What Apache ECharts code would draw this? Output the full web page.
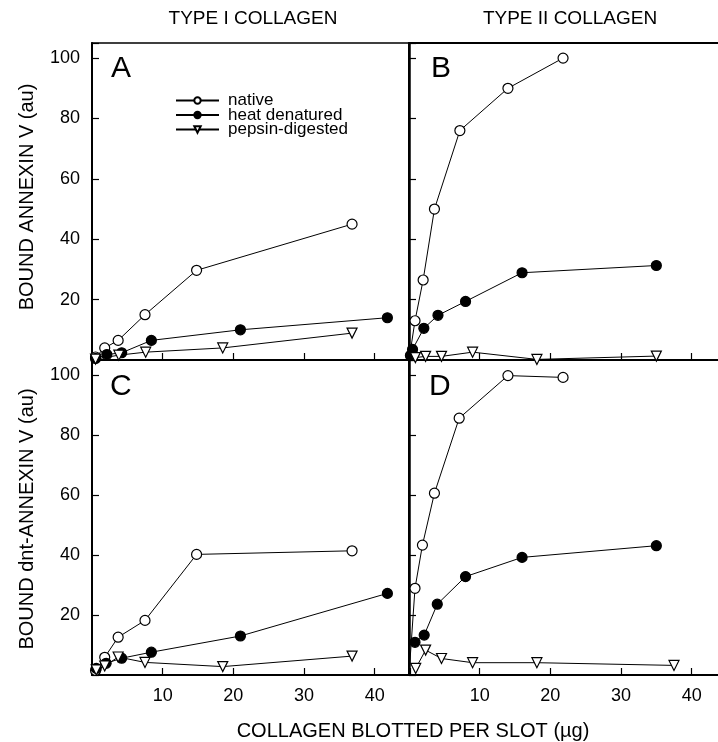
<!DOCTYPE html>
<html><head><meta charset="utf-8">
<script src="https://cdn.jsdelivr.net/npm/echarts@6/dist/echarts.min.js"></script>
<style>html,body{margin:0;padding:0;background:#fff}#c{width:718px;height:742px}</style>
</head><body><div id="c"></div>
<script>
// ---- data (x = µg collagen per slot, y = bound annexin, au) ----
const seriesNames = ['native', 'heat denatured', 'pepsin-digested'];
const xTicks = [10, 20, 30, 40];
const yTicks = [20, 40, 60, 80, 100];
const colTitles = ['TYPE I COLLAGEN', 'TYPE II COLLAGEN'];
const panelLetters = ['A', 'B', 'C', 'D'];

const A_native = [[0.5, 1], [1.8, 4], [3.7, 6.5], [7.5, 15], [14.8, 29.7], [36.8, 45]];
const A_heat = [[0.5, 0.5], [2.1, 1.8], [4.2, 2.4], [8.4, 6.5], [21, 10], [41.8, 14]];
const A_pepsin = [[0.5, 0.3], [3.8, 1.6], [7.6, 2.6], [18.5, 4], [36.8, 8.9]];

const B_native = [[0, 0], [0.85, 13], [2.0, 26.5], [3.6, 50], [7.2, 76], [14, 90], [21.8, 100]];
const B_heat = [[0.2, 1.5], [0.5, 3.5], [2.1, 10.5], [4.1, 14.8], [8.0, 19.4], [16, 28.9], [35, 31.3]];
const B_pepsin = [[0.9, 0.8], [2.35, 1.2], [4.6, 1.2], [9.0, 2.6], [18.1, 0.2], [35, 1.3]];

const C_native = [[0.5, 1.5], [1.8, 5.9], [3.7, 12.6], [7.5, 18.2], [14.8, 40.2], [36.8, 41.4]];
const C_heat = [[0.6, 2.2], [2.0, 3.9], [4.2, 5.6], [8.4, 7.6], [21, 13], [41.8, 27.2]];
const C_pepsin = [[0.6, 1.7], [1.8, 3.0], [3.7, 6.0], [7.5, 4.2], [18.5, 2.8], [36.8, 6.3]];

const D_native = [[0, 0], [0.85, 28.9], [1.9, 43.3], [3.6, 60.6], [7.1, 85.6], [14, 99.8], [21.8, 99.2]];
const D_heat = [[0.85, 10.9], [2.15, 13.3], [4.0, 23.6], [8.0, 32.8], [16, 39.2], [35, 43.1]];
const D_pepsin = [[0.95, 2.2], [2.35, 8.3], [4.6, 5.5], [9.0, 4.1], [18.1, 4.1], [37.5, 3.2]];

const panels = [
  [A_native, A_heat, A_pepsin],
  [B_native, B_heat, B_pepsin],
  [C_native, C_heat, C_pepsin],
  [D_native, D_heat, D_pepsin]
];

// ---- layout ----
const FONT = 'Liberation Sans, Arial, sans-serif';
const gridPos = [
  {left: 92, top: 43, width: 318, height: 317},
  {left: 409, top: 43, width: 318, height: 317},
  {left: 92, top: 360, width: 318, height: 315},
  {left: 409, top: 360, width: 318, height: 315}
];
const symbolStyles = [
  {symbol: 'circle', size: 10, fill: '#fff', rot: 0},
  {symbol: 'circle', size: 10, fill: '#000', rot: 0},
  {symbol: 'triangle', size: 10, fill: '#fff', rot: 180}
];

const grids = gridPos.map((g, i) => Object.assign({
  show: i % 2 === 0, borderColor: '#000', borderWidth: 1.5, backgroundColor: 'transparent',
  outerBoundsMode: 'none', containLabel: false
}, g));
const xAxes = gridPos.map((g, i) => ({
  type: 'value', gridIndex: i, min: 0, max: 45, interval: 10,
  axisLine: {show: true, onZero: false, lineStyle: {color: '#000', width: 2}},
  axisTick: {show: true, inside: true, length: 7, lineStyle: {color: '#000', width: 1.2}},
  axisLabel: {show: i >= 2, color: '#000', fontFamily: FONT, fontSize: 18, margin: 12,
    formatter: v => xTicks.includes(v) ? String(v) : ''},
  splitLine: {show: false}
}));
// top frame line of panel B
xAxes.push({
  type: 'value', gridIndex: 1, position: 'top', min: 0, max: 45,
  axisLine: {show: true, onZero: false, lineStyle: {color: '#000', width: 2}},
  axisTick: {show: false}, axisLabel: {show: false}, splitLine: {show: false}
});
const yAxes = gridPos.map((g, i) => ({
  type: 'value', gridIndex: i, min: 0, max: 105, interval: 20,
  axisLine: {show: true, onZero: false, lineStyle: {color: '#000', width: 2}},
  axisTick: {show: true, inside: true, length: 7, lineStyle: {color: '#000', width: 1.2}},
  axisLabel: {show: i % 2 === 0, color: '#000', fontFamily: FONT, fontSize: 18, margin: 12,
    formatter: v => yTicks.includes(v) ? String(v) : ''},
  splitLine: {show: false}
}));

const series = [];
panels.forEach((p, i) => {
  p.forEach((data, k) => {
    const s = symbolStyles[k];
    series.push({
      type: 'line', name: seriesNames[k], xAxisIndex: i, yAxisIndex: i,
      data: data.map(pt => pt[0] === 0 ? {value: pt, symbol: 'none'} : pt),
      symbol: s.symbol, symbolSize: s.size, symbolRotate: s.rot, showAllSymbol: true,
      lineStyle: {color: '#000', width: 1},
      itemStyle: {color: s.fill, borderColor: '#000', borderWidth: 1.2},
      z: 3 + k, animation: false, silent: true
    });
  });
});

const letterPos = [[111, 54], [431, 54], [110, 372], [429, 372]];
const graphics = [];
panelLetters.forEach((L, i) => graphics.push({type: 'text', left: letterPos[i][0], top: letterPos[i][1],
  style: {text: L, fontFamily: FONT, fontSize: 30, fill: '#000'}}));
graphics.push({type: 'text', x: 253, y: 19, style: {text: colTitles[0], fontFamily: FONT, fontSize: 19, fill: '#000', align: 'center', verticalAlign: 'middle'}});
graphics.push({type: 'text', x: 570, y: 19, style: {text: colTitles[1], fontFamily: FONT, fontSize: 19, fill: '#000', align: 'center', verticalAlign: 'middle'}});
graphics.push({type: 'text', x: 27, y: 197, rotation: Math.PI / 2, style: {text: 'BOUND ANNEXIN V (au)', fontFamily: FONT, fontSize: 20, fill: '#000', align: 'center', verticalAlign: 'middle'}});
graphics.push({type: 'text', x: 27, y: 519, rotation: Math.PI / 2, style: {text: 'BOUND dnt-ANNEXIN V (au)', fontFamily: FONT, fontSize: 20, fill: '#000', align: 'center', verticalAlign: 'middle'}});
graphics.push({type: 'text', x: 413, y: 731, style: {text: 'COLLAGEN BLOTTED PER SLOT (µg)', fontFamily: FONT, fontSize: 20, fill: '#000', align: 'center', verticalAlign: 'middle'}});

const chart = echarts.init(document.getElementById('c'), null, {renderer: 'canvas'});
chart.setOption({
  animation: false,
  backgroundColor: '#fff',
  grid: grids, xAxis: xAxes, yAxis: yAxes, series: series,
  legend: {
    data: seriesNames, orient: 'vertical', left: 175, top: 92, padding: 0,
    itemWidth: 43, itemHeight: 8, itemGap: -2.5,
    textStyle: {fontFamily: FONT, fontSize: 17, color: '#000', padding: [0, 0, 0, 4]},
    selectedMode: false
  },
  graphic: graphics
});
</script></body></html>
